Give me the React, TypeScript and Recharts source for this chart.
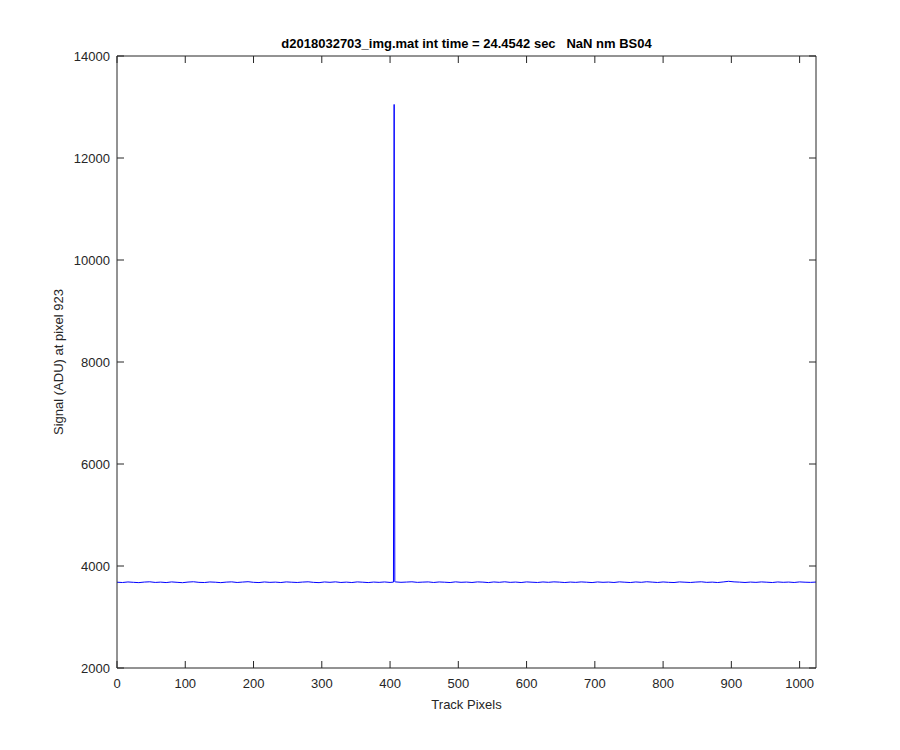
import React from 'react'
import { LineChart, Line, XAxis, YAxis } from 'recharts'

// track pixel positions (sampled) and signal at pixel 923
const pixels = [
  0, 8, 16, 24, 32, 40, 48, 56, 64, 72,
  80, 88, 96, 104, 112, 120, 128, 136, 144, 152,
  160, 168, 176, 184, 192, 200, 208, 216, 224, 232,
  240, 248, 256, 264, 272, 280, 288, 296, 304, 312,
  320, 328, 336, 344, 352, 360, 368, 376, 384, 392,
  400, 405, 406, 407, 408, 416, 424, 432, 440, 448, 456,
  464, 472, 480, 488, 496, 504, 512, 520, 528, 536,
  544, 552, 560, 568, 576, 584, 592, 600, 608, 616,
  624, 632, 640, 648, 656, 664, 672, 680, 688, 696,
  704, 712, 720, 728, 736, 744, 752, 760, 768, 776,
  784, 792, 800, 808, 816, 824, 832, 840, 848, 856,
  864, 872, 880, 888, 896, 904, 912, 920, 928, 936,
  944, 952, 960, 968, 976, 984, 992, 1000, 1008, 1016, 1024,
]

const signal = [
  3682, 3676, 3687, 3680, 3674, 3685, 3690, 3678, 3684, 3675,
  3688, 3680, 3673, 3685, 3691, 3679, 3676, 3687, 3682, 3674,
  3684, 3689, 3677, 3685, 3692, 3680, 3675, 3687, 3679, 3684,
  3676, 3688, 3682, 3677, 3685, 3690, 3679, 3674, 3687, 3680,
  3689, 3677, 3684, 3676, 3688, 3682, 3675, 3685, 3679, 3687,
  3678, 3684, 13050, 3690, 3688, 3680, 3685, 3690, 3679, 3684, 3688,
  3677, 3687, 3682, 3676, 3689, 3680, 3685, 3677, 3688, 3684,
  3675, 3687, 3680, 3690, 3679, 3685, 3676, 3688, 3682, 3677,
  3687, 3680, 3689, 3684, 3676, 3685, 3679, 3688, 3682, 3675,
  3687, 3680, 3685, 3677, 3689, 3682, 3676, 3687, 3680, 3691,
  3684, 3677, 3687, 3680, 3676, 3688, 3682, 3677, 3685, 3690,
  3679, 3684, 3676, 3687, 3700, 3689, 3684, 3677, 3685, 3679,
  3688, 3682, 3676, 3687, 3680, 3685, 3677, 3688, 3682, 3679, 3685,
]

const xTicks = [0, 100, 200, 300, 400, 500, 600, 700, 800, 900, 1000]
const yTicks = [2000, 4000, 6000, 8000, 10000, 12000, 14000]

const data = pixels.map((p, i) => ({ pixel: p, value: signal[i] }))

const AXIS = '#262626'
const FONT = '"Liberation Sans", Arial, Helvetica, sans-serif'
const TICK = 7

// plot box edges (follow from the chart margins below)
const TOP = 56
const BOTTOM = 668
const LEFT = 117
const RIGHT = 816

const BottomTick = ({ x, payload }: any) => (
  <g>
    <line x1={x} y1={BOTTOM} x2={x} y2={BOTTOM - TICK} stroke={AXIS} />
    <text x={x} y={BOTTOM + 20} textAnchor="middle" fontSize={13} fill={AXIS} fontFamily={FONT}>
      {payload.value}
    </text>
  </g>
)

const TopTick = ({ x }: any) => <line x1={x} y1={TOP} x2={x} y2={TOP + TICK} stroke={AXIS} />

const LeftTick = ({ y, payload }: any) => (
  <g>
    <line x1={LEFT} y1={y} x2={LEFT + TICK} y2={y} stroke={AXIS} />
    <text x={LEFT - 7} y={y + 4.5} textAnchor="end" fontSize={13} fill={AXIS} fontFamily={FONT}>
      {payload.value}
    </text>
  </g>
)

const RightTick = ({ y }: any) => <line x1={RIGHT} y1={y} x2={RIGHT - TICK} y2={y} stroke={AXIS} />

export default function App() {
  return (
    <div style={{ position: 'absolute', left: 0, top: 0, width: 900, height: 750, background: '#fff', fontFamily: FONT }}>
      <div style={{ position: 'absolute', left: 117, width: 699, top: 36, textAlign: 'center', fontSize: 13, fontWeight: 'bold', color: '#000' }}>
        d2018032703_img.mat int time = 24.4542 sec&nbsp;&nbsp; NaN nm BS04
      </div>
      <div style={{ position: 'absolute', left: 117, width: 699, top: 697, textAlign: 'center', fontSize: 13, color: AXIS }}>
        Track Pixels
      </div>
      <div
        style={{
          position: 'absolute', left: 58, top: 362, width: 300, marginLeft: -150, textAlign: 'center',
          fontSize: 13, color: AXIS, transform: 'translateY(-50%) rotate(-90deg)', lineHeight: '15px',
        }}
      >
        Signal (ADU) at pixel 923
      </div>
      <LineChart width={900} height={750} data={data} margin={{ top: 55, right: 83, bottom: 42, left: 0 }}>
        <XAxis
          dataKey="pixel" type="number" domain={[0, 1024]} ticks={xTicks} height={40} interval={0}
          axisLine={{ stroke: AXIS }} tickLine={false} tick={<BottomTick />}
        />
        <XAxis
          xAxisId="top" orientation="top" dataKey="pixel" type="number" domain={[0, 1024]} ticks={xTicks} height={1} interval={0}
          axisLine={{ stroke: AXIS }} tickLine={false} tick={<TopTick />}
        />
        <YAxis
          type="number" domain={[2000, 14000]} ticks={yTicks} width={117} interval={0}
          axisLine={{ stroke: AXIS }} tickLine={false} tick={<LeftTick />}
        />
        <YAxis
          yAxisId="right" orientation="right" type="number" domain={[2000, 14000]} ticks={yTicks} width={1} interval={0}
          axisLine={{ stroke: AXIS }} tickLine={false} tick={<RightTick />}
        />
        <Line dataKey="value" stroke="#0000ff" strokeWidth={1} dot={false} isAnimationActive={false} type="linear" />
        <Line
          dataKey="value" xAxisId="top" yAxisId="right" stroke="none" dot={false} activeDot={false}
          isAnimationActive={false} type="linear"
        />
      </LineChart>
    </div>
  )
}
